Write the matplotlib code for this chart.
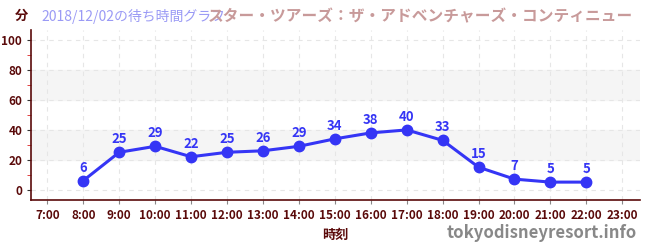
import matplotlib
matplotlib.use("Agg")
import matplotlib.pyplot as plt

plt.rcParams['font.family'] = ['Noto Sans CJK JP', 'DejaVu Sans']

hours = [8, 9, 10, 11, 12, 13, 14, 15, 16, 17, 18, 19, 20, 21, 22]
waits = [6, 25, 29, 22, 25, 26, 29, 34, 38, 40, 33, 15, 7, 5, 5]
tick_hours = list(range(7, 24))
tick_labels = ["%d:00" % h for h in tick_hours]
date_label = "2018/12/02の待ち時間グラフ"
ride_name = "スター・ツアーズ：ザ・アドベンチャーズ・コンティニュー"

axis_col = '#5a0a0a'
line_col = '#3535f5'

fig = plt.figure(figsize=(6.5, 2.5), dpi=100)
ax = fig.add_axes([0.048, 0.2, 0.937, 0.68])

# bands
for lo, hi in [(20, 40), (60, 80)]:
    ax.axhspan(lo, hi, color='#f5f5f5', zorder=0)

ax.plot(hours, waits, color=line_col, lw=2.2, marker='o', markersize=7.5, zorder=3)
for h, w in zip(hours, waits):
    ax.text(h, w + 4, str(w), ha='center', va='bottom', color=line_col,
            fontsize=9.5, fontweight='bold', zorder=4)

ax.set_xlim(6.55, 23.5)
ax.set_ylim(-7, 107)
ax.set_xticks(tick_hours)
ax.set_xticklabels(tick_labels)
ax.set_yticks([0, 20, 40, 60, 80, 100])
ax.set_yticks([10, 30, 50, 70, 90], minor=True)
ax.tick_params(axis='y', which='minor', length=3, color='#dd2222')
ax.tick_params(axis='both', which='major', labelsize=8.5, labelcolor=axis_col, length=3)
ax.tick_params(axis='x', colors='#888888', labelcolor=axis_col)
ax.tick_params(axis='y', colors='#333333', labelcolor=axis_col)
for lab in ax.get_xticklabels() + ax.get_yticklabels():
    lab.set_fontweight('bold')

ax.grid(True, which='major', color='#e6e6e6', ls=(0, (4, 4)), lw=0.8)
ax.set_axisbelow(True)
for s in ['top', 'right']:
    ax.spines[s].set_visible(False)
for s in ['left', 'bottom']:
    ax.spines[s].set_color(axis_col)
    ax.spines[s].set_linewidth(1.2)

ax.set_xlabel("時刻", fontsize=9.5, fontweight='bold', color=axis_col, labelpad=4)

fig.text(0.023, 0.935, "分", fontsize=9.5, fontweight='bold', color=axis_col, va='center')
fig.text(0.063, 0.935, date_label, fontsize=10, color='#9a9af5', va='center')
fig.text(0.32, 0.935, ride_name, fontsize=11.3, fontweight='bold', color='#c89a9a', va='center')
fig.text(0.98, 0.07, "tokyodisneyresort.info", fontsize=12, fontweight='bold',
         color='#888888', ha='right', va='center')

fig.savefig("out.png", dpi=100)
